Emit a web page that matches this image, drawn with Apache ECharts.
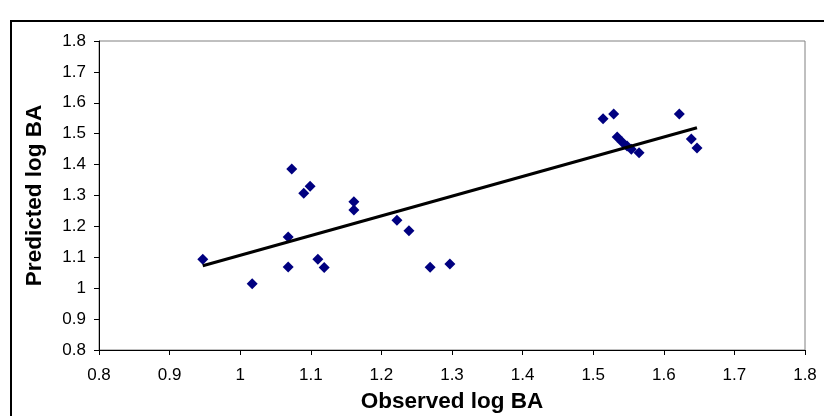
<!DOCTYPE html>
<html><head><meta charset="utf-8">
<script src="https://cdn.jsdelivr.net/npm/echarts@6/dist/echarts.min.js"></script>
<style>html,body{margin:0;padding:0;background:#fff}#c{width:824px;height:416px}</style>
</head><body><div id="c"></div>
<script>
const observed = [0.947, 1.017, 1.068, 1.068, 1.073, 1.090, 1.099, 1.110, 1.119, 1.161, 1.161, 1.222, 1.239, 1.269, 1.297,
  1.514, 1.529, 1.534, 1.541, 1.548, 1.554, 1.565, 1.622, 1.639, 1.647];
const predicted = [1.094, 1.014, 1.069, 1.166, 1.386, 1.307, 1.330, 1.094, 1.067, 1.280, 1.253, 1.220, 1.186, 1.068, 1.078,
  1.548, 1.564, 1.489, 1.473, 1.460, 1.450, 1.438, 1.564, 1.483, 1.454];
const tickLabels = ['0.8','0.9','1','1.1','1.2','1.3','1.4','1.5','1.6','1.7','1.8'];
const xTitle = 'Observed log BA';
const yTitle = 'Predicted log BA';

const pts = observed.map((x, i) => [x, predicted[i]]);
// least-squares linear trendline over the observed range
const n = pts.length;
const mx = observed.reduce((a, b) => a + b, 0) / n;
const my = predicted.reduce((a, b) => a + b, 0) / n;
let sxy = 0, sxx = 0;
for (let i = 0; i < n; i++) { sxy += (observed[i] - mx) * (predicted[i] - my); sxx += (observed[i] - mx) ** 2; }
const slope = sxy / sxx, icpt = my - slope * mx;
const xmin = Math.min(...observed), xmax = Math.max(...observed);
const trend = [[xmin, icpt + slope * xmin], [xmax, icpt + slope * xmax]];

const font = '"Liberation Sans", Arial, Helvetica, sans-serif';
const fmt = (v) => tickLabels[Math.round((v - 0.8) * 10)];
const chart = echarts.init(document.getElementById('c'), null, { renderer: 'canvas' });
chart.setOption({
  animation: false,
  backgroundColor: '#fff',
  graphic: [{ type: 'rect', shape: { x: 11, y: 21, width: 840, height: 420 }, style: { fill: 'none', stroke: '#000', lineWidth: 2 }, z: 100 }],
  grid: { left: 99, right: 19, top: 41, bottom: 66, outerBoundsMode: 'none', containLabel: false, show: true, borderColor: '#808080', borderWidth: 1, backgroundColor: '#fff' },
  xAxis: {
    type: 'value', min: 0.8, max: 1.8, interval: 0.1,
    name: xTitle, nameLocation: 'middle', nameGap: 40,
    nameTextStyle: { fontFamily: font, fontWeight: 'bold', fontSize: 22.5, color: '#000' },
    axisLine: { show: true, onZero: false, lineStyle: { color: '#000', width: 1 } },
    axisTick: { show: true, inside: false, length: 5, lineStyle: { color: '#000' } },
    axisLabel: { margin: 17, fontFamily: font, fontSize: 17, color: '#000', formatter: fmt },
    splitLine: { show: false }
  },
  yAxis: {
    type: 'value', min: 0.8, max: 1.8, interval: 0.1,
    name: yTitle, nameLocation: 'middle', nameGap: 53, nameRotate: 90,
    nameTextStyle: { fontFamily: font, fontWeight: 'bold', fontSize: 22.5, color: '#000' },
    axisLine: { show: true, onZero: false, lineStyle: { color: '#000', width: 1 } },
    axisTick: { show: true, inside: false, length: 5, lineStyle: { color: '#000' } },
    axisLabel: { margin: 13, fontFamily: font, fontSize: 17, color: '#000', formatter: fmt },
    splitLine: { show: false }
  },
  series: [
    { type: 'scatter', data: pts, symbol: 'diamond', symbolSize: 11, itemStyle: { color: '#000080', opacity: 1 }, z: 3 },
    { type: 'line', data: trend, symbol: 'none', lineStyle: { color: '#000', width: 3 }, z: 4 }
  ]
});
</script></body></html>
